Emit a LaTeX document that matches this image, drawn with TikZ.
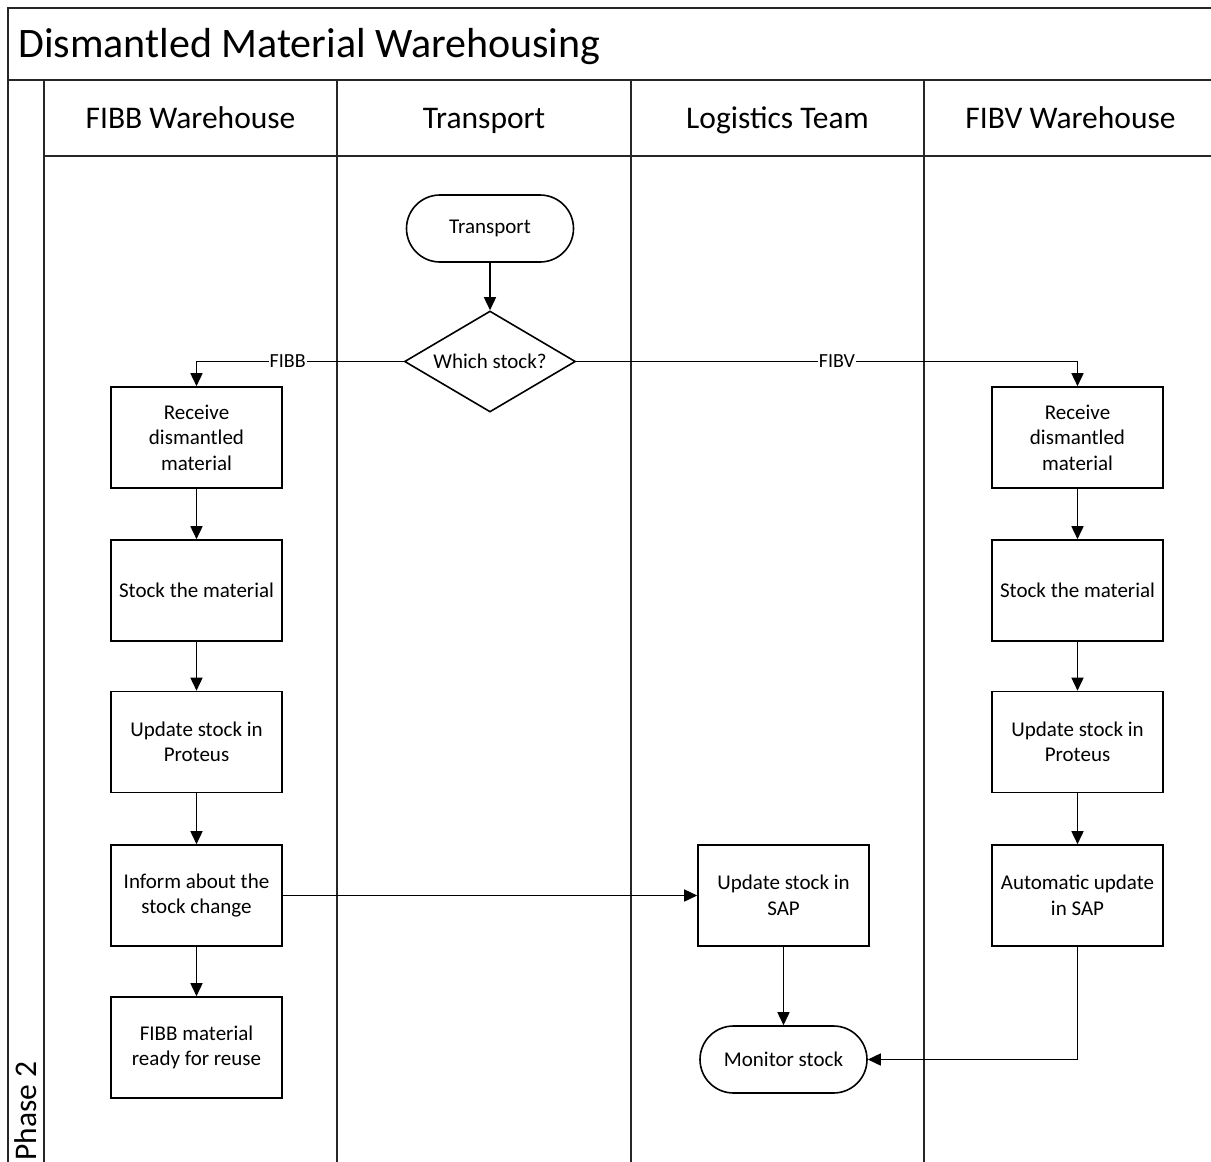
\documentclass[tikz,border=0pt]{standalone}
\usepackage{fontspec}
\setmainfont{Carlito}
\usetikzlibrary{shapes.geometric,shapes.misc,arrows.meta}

\begin{document}
\begin{tikzpicture}[x=1pt,y=-1pt,
  frame/.style={line width=1.8pt,black!85},
  boxtext/.style={font=\fontsize{21}{25.5}\selectfont},
  proc/.style={boxtext,draw,line width=1.6pt,rectangle,minimum width=171pt,minimum height=101pt,
    align=center,inner sep=2pt},
  term/.style={boxtext,draw,line width=1.6pt,rounded rectangle,minimum width=171pt,minimum height=67pt,
    align=center,inner sep=2pt},
  decision/.style={boxtext,draw,line width=1.6pt,diamond,shape aspect=1.7,inner sep=0pt,
    minimum width=171pt,minimum height=101pt},
  lanehead/.style={anchor=base,font=\fontsize{31.5}{36}\selectfont},
  flow/.style={line width=1.6pt,-{Triangle[length=13pt,width=12pt]}},
  elabel/.style={fill=white,inner sep=1pt,font=\fontsize{20}{24}\selectfont}
]
\useasboundingbox (0,0) rectangle (1211,1162);
\clip (0,0) rectangle (1211,1162);

% pool frame, title band, phase column and lanes
\draw[frame] (8,8) rectangle (1230,1180);
\draw[frame] (8,80) -- (1230,80);
\draw[frame] (44,80) -- (44,1180);
\draw[frame] (44,156) -- (1230,156);
\foreach \lx in {337,631,924} \draw[frame] (\lx,80) -- (\lx,1180);

\node[anchor=base west,font=\fontsize{42}{48}\selectfont,inner sep=0pt] (title) at (18,57) {Dismantled Material Warehousing};
\node[lanehead] (h1) at (190.5,128) {FIBB Warehouse};
\node[lanehead] (h2) at (484,128) {Transport};
\node[lanehead] (h3) at (777.5,128) {Logistics Team};
\node[lanehead] (h4) at (1070.5,128) {FIBV Warehouse};
\node[rotate=90,anchor=west,inner sep=0pt,font=\fontsize{31.5}{36}\selectfont] (phase) at (26,1161) {Phase 2};

% transport lane
\node[term] (start) at (490,228.5) {Transport};
\node[decision] (which) at (490,361.5) {Which stock?};

% FIBB warehouse lane
\node[proc] (b1) at (196.5,437.5) {Receive\\dismantled\\material};
\node[proc] (b2) at (196.5,590.5) {Stock the material};
\node[proc] (b3) at (196.5,742) {Update stock in\\Proteus};
\node[proc] (b4) at (196.5,895.5) {Inform about the\\stock change};
\node[proc] (b5) at (196.5,1047.5) {FIBB material\\ready for reuse};

% FIBV warehouse lane
\node[proc] (v1) at (1077.5,437.5) {Receive\\dismantled\\material};
\node[proc] (v2) at (1077.5,590.5) {Stock the material};
\node[proc] (v3) at (1077.5,742) {Update stock in\\Proteus};
\node[proc] (v4) at (1077.5,895.5) {Automatic update\\in SAP};

% logistics lane
\node[proc] (sap) at (783.5,895.5) {Update stock in\\SAP};
\node[term] (mon) at (783.5,1059.5) {Monitor stock};

% connectors
\draw[flow] (start) -- (which);
\draw[flow] (which.west) -| node[elabel,pos=0.28] {FIBB} (b1.north);
\draw[flow] (which.east) -| node[elabel,pos=0.26] {FIBV} (v1.north);
\draw[flow] (b1) -- (b2);
\draw[flow] (b2) -- (b3);
\draw[flow] (b3) -- (b4);
\draw[flow] (b4) -- (b5);
\draw[flow] (v1) -- (v2);
\draw[flow] (v2) -- (v3);
\draw[flow] (v3) -- (v4);
\draw[flow] (b4.east) -- (sap.west);
\draw[flow] (sap) -- (mon);
\draw[flow] (v4.south) |- (mon.east);
\end{tikzpicture}
\end{document}
